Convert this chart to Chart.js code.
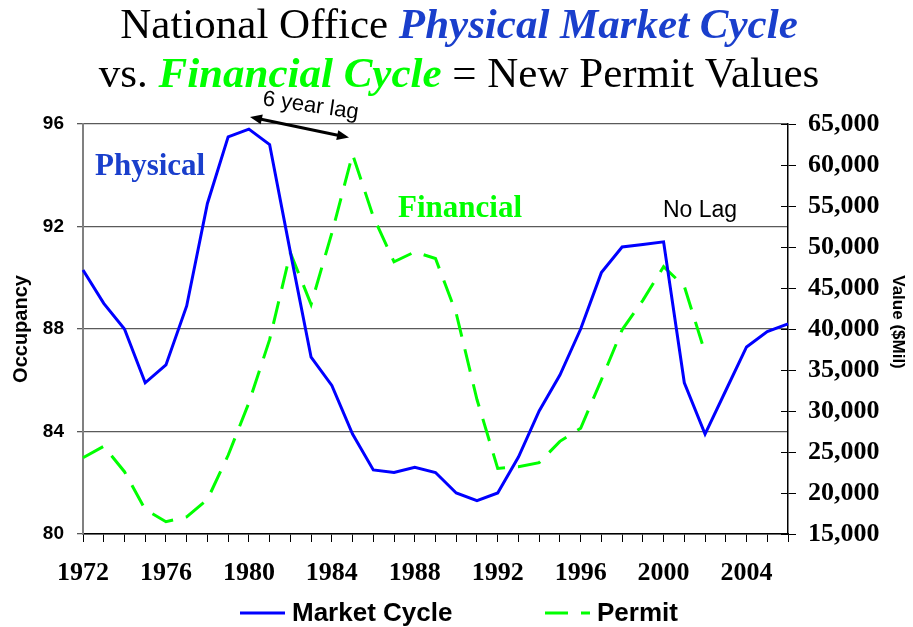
<!DOCTYPE html>
<html><head><meta charset="utf-8">
<script src="https://cdn.jsdelivr.net/npm/chart.js@4"></script>
<style>html,body{margin:0;padding:0;background:#fff;}canvas{display:block;}</style>
</head><body>
<canvas id="c" width="913" height="627"></canvas>
<script>
// ---- data ----
const years = ['1972','1973','1974','1975','1976','1977','1978','1979','1980','1981',
  '1982','1983','1984','1985','1986','1987','1988','1989','1990','1991',
  '1992','1993','1994','1995','1996','1997','1998','1999','2000','2001',
  '2002','2003','2004','2005','2006'];
const xTickLabels = ['1972','1976','1980','1984','1988','1992','1996','2000','2004'];
const occupancy = [90.3, 89.0, 88.0, 85.9, 86.6, 88.9, 92.9, 95.5, 95.8, 95.2,
  91.0, 86.9, 85.8, 83.9, 82.5, 82.4, 82.6, 82.4, 81.6, 81.3,
  81.6, 83.0, 84.8, 86.2, 88.0, 90.2, 91.2, 91.3, 91.4, 85.9,
  83.9, 85.6, 87.3, 87.9, 88.2];
const permitValues = [24300, 25700, 22600, 18000, 16500, 17100, 19200, 24600, 31000, 38700,
  49300, 43000, 51700, 61300, 53700, 48200, 49400, 48600, 41900, 31400,
  23000, 23200, 23700, 26300, 27900, 33800, 39900, 43500, 47600, 45200,
  37100, null, null, null, null];
const leftTicks = [80, 84, 88, 92, 96];
const rightTicks = [15000, 20000, 25000, 30000, 35000, 40000, 45000, 50000, 55000, 60000, 65000];
const seriesNames = ['Market Cycle', 'Permit'];
const axisTitles = ['Occupancy', 'Value ($Mil)'];
const titleLine1 = ['National Office ', 'Physical Market Cycle'];
const titleLine2 = ['vs. ', 'Financial Cycle', ' = New Permit Values'];
const notes = ['Physical', 'Financial', 'No Lag', '6 year lag'];

const SERIF = "'Liberation Serif', 'Times New Roman', serif";
const SANS = "'Liberation Sans', Arial, sans-serif";
const BLUE = '#0000ff', GREEN = '#00ff00', TBLUE = '#1a3fcc';
const PERMIT_DASH = [23, 13];

function drawRuns(ctx, runs, cx, y) {
  let total = 0;
  runs.forEach(r => { ctx.font = r.font; r.w = ctx.measureText(r.text).width; total += r.w; });
  let x = cx - total / 2;
  ctx.textAlign = 'left'; ctx.textBaseline = 'alphabetic';
  runs.forEach(r => { ctx.font = r.font; ctx.fillStyle = r.color; ctx.fillText(r.text, x, y); x += r.w; });
}

function arrowHead(ctx, x1, y1, x2, y2, len, wid) {
  const a = Math.atan2(y2 - y1, x2 - x1);
  ctx.beginPath();
  ctx.moveTo(x2, y2);
  ctx.lineTo(x2 - len * Math.cos(a) + wid * Math.sin(a), y2 - len * Math.sin(a) - wid * Math.cos(a));
  ctx.lineTo(x2 - len * Math.cos(a) - wid * Math.sin(a), y2 - len * Math.sin(a) + wid * Math.cos(a));
  ctx.closePath();
  ctx.fill();
}

const decor = {
  id: 'decor',
  afterDraw(chart) {
    const ctx = chart.ctx;
    ctx.save();
    // Title
    const reg = '43px ' + SERIF, bi = 'italic bold 43px ' + SERIF;
    drawRuns(ctx, [{text: titleLine1[0], font: reg, color: '#000'},
                   {text: titleLine1[1], font: bi, color: TBLUE}], 459, 38);
    drawRuns(ctx, [{text: titleLine2[0], font: reg, color: '#000'},
                   {text: titleLine2[1], font: bi, color: GREEN},
                   {text: titleLine2[2], font: reg, color: '#000'}], 459, 87);

    // right axis inner tick marks
    const y1 = chart.scales.y1;
    ctx.strokeStyle = '#000'; ctx.lineWidth = 1;
    rightTicks.forEach(v => {
      const py = Math.round(y1.getPixelForValue(v)) + 0.5;
      ctx.beginPath(); ctx.moveTo(y1.left - 7, py); ctx.lineTo(y1.left, py); ctx.stroke();
    });

    // right axis title (rotated clockwise)
    ctx.save();
    ctx.translate(898, 322);
    ctx.rotate(Math.PI / 2);
    ctx.font = 'bold 17px ' + SANS; ctx.fillStyle = '#000';
    ctx.textAlign = 'center'; ctx.textBaseline = 'middle';
    ctx.fillText(axisTitles[1], 0, 0);
    ctx.restore();

    // annotations
    ctx.textAlign = 'left'; ctx.textBaseline = 'alphabetic';
    ctx.font = 'bold 31px ' + SERIF; ctx.fillStyle = TBLUE;
    ctx.fillText(notes[0], 95, 175);
    ctx.fillStyle = GREEN;
    ctx.fillText(notes[1], 398, 217);
    ctx.font = '23px ' + SANS; ctx.fillStyle = '#000';
    ctx.fillText(notes[2], 663, 217);
    ctx.save();
    ctx.translate(262, 105);
    ctx.rotate(0.145);
    ctx.font = '22px ' + SANS;
    ctx.fillText(notes[3], 0, 0);
    ctx.restore();
    // double arrow
    ctx.strokeStyle = '#000'; ctx.fillStyle = '#000'; ctx.lineWidth = 3;
    const ax1 = 250, ay1 = 117, ax2 = 349, ay2 = 137.5;
    const a = Math.atan2(ay2 - ay1, ax2 - ax1);
    ctx.beginPath();
    ctx.moveTo(ax1 + 9 * Math.cos(a), ay1 + 9 * Math.sin(a));
    ctx.lineTo(ax2 - 9 * Math.cos(a), ay2 - 9 * Math.sin(a));
    ctx.stroke();
    arrowHead(ctx, ax2, ay2, ax1, ay1, 12, 5);
    arrowHead(ctx, ax1, ay1, ax2, ay2, 12, 5);

    // legend
    const ly = 613;
    ctx.lineWidth = 3; ctx.lineCap = 'butt';
    ctx.strokeStyle = BLUE; ctx.setLineDash([]);
    ctx.beginPath(); ctx.moveTo(240, ly); ctx.lineTo(285, ly); ctx.stroke();
    ctx.strokeStyle = GREEN; ctx.setLineDash(PERMIT_DASH);
    ctx.beginPath(); ctx.moveTo(545, ly); ctx.lineTo(590, ly); ctx.stroke();
    ctx.setLineDash([]);
    ctx.font = 'bold 26px ' + SANS; ctx.fillStyle = '#000'; ctx.textBaseline = 'middle';
    ctx.fillText(chart.data.datasets[0].label, 292, ly + 1);
    ctx.fillText(chart.data.datasets[1].label, 597, ly + 1);
    ctx.restore();
  }
};

new Chart(document.getElementById('c'), {
  type: 'line',
  data: {
    labels: years,
    datasets: [
      { label: seriesNames[0], data: occupancy, yAxisID: 'y', borderColor: BLUE, backgroundColor: BLUE,
        borderWidth: 3, pointRadius: 0, tension: 0, fill: false },
      { label: seriesNames[1], data: permitValues, yAxisID: 'y1', borderColor: GREEN, backgroundColor: GREEN,
        borderWidth: 3, borderDash: PERMIT_DASH, pointRadius: 0, tension: 0, fill: false, spanGaps: false }
    ]
  },
  options: {
    responsive: false,
    animation: false,
    devicePixelRatio: 1,
    layout: { padding: { top: 124, left: 0, right: 0, bottom: 0 } },
    plugins: { legend: { display: false }, title: { display: false }, tooltip: { enabled: false } },
    scales: {
      x: {
        type: 'category',
        offset: false,
        grid: { drawOnChartArea: false, drawTicks: true, tickLength: 8, color: '#000', lineWidth: 1 },
        border: { display: true, color: '#000', width: 1.5 },
        ticks: {
          autoSkip: false, maxRotation: 0, minRotation: 0, padding: 16, color: '#000',
          font: { family: SERIF, size: 26, weight: 'bold' },
          callback: function(v, i) { return xTickLabels.includes(years[i]) ? years[i] : ''; }
        },
        afterFit: s => { s.height = 93; }
      },
      y: {
        position: 'left', min: leftTicks[0], max: leftTicks[leftTicks.length - 1],
        afterBuildTicks: s => { s.ticks = leftTicks.map(v => ({ value: v })); },
        grid: { color: '#5a5a5a', lineWidth: 1.3, tickLength: 6, drawTicks: true },
        border: { display: true, color: '#808080', width: 2 },
        ticks: { padding: 13, color: '#000', font: { family: SANS, size: 19, weight: 'bold' } },
        title: { display: true, text: axisTitles[0], color: '#000', font: { family: SANS, size: 20, weight: 'bold' },
                 padding: { top: 9, bottom: 0 } },
        afterFit: s => { s.width = 83; }
      },
      y1: {
        position: 'right', min: rightTicks[0], max: rightTicks[rightTicks.length - 1],
        afterBuildTicks: s => { s.ticks = rightTicks.map(v => ({ value: v })); },
        grid: { drawOnChartArea: false, color: '#000', lineWidth: 1, tickLength: 8, drawTicks: true },
        border: { display: true, color: '#000', width: 1.5 },
        ticks: { padding: 12, color: '#000', font: { family: SERIF, size: 26, weight: 'bold' },
                 callback: v => v.toLocaleString('en-US') },
        title: { display: false },
        afterFit: s => { s.width = 125; }
      }
    }
  },
  plugins: [decor]
});
</script>
</body></html>
